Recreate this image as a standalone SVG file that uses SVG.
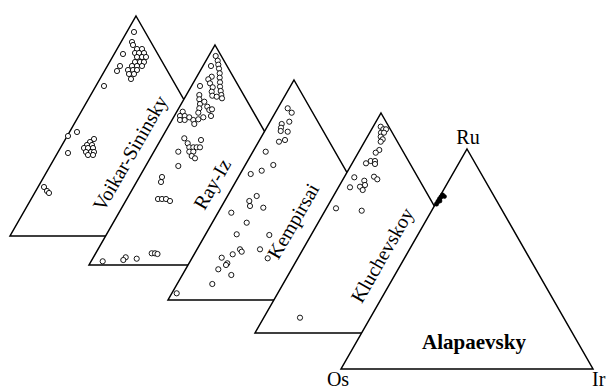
<svg xmlns="http://www.w3.org/2000/svg" width="606" height="389" viewBox="0 0 606 389">
<style>
.tri{fill:#fff;stroke:#000;stroke-width:1.5;stroke-linejoin:miter}
.p{fill:#fff;stroke:#000;stroke-width:0.9}
.f{fill:#000;stroke:#000;stroke-width:0.6}
.lbl{font-family:"Liberation Serif","Times New Roman",serif;font-size:20px;fill:#000;text-anchor:middle}
.b{font-weight:bold;font-size:21px}
</style>
<defs>
<circle id="c" r="2.6"/>
</defs>
<rect width="606" height="389" fill="#fff"/>
<g id="voikar">
<polygon class="tri" points="136,16 262,236 10,236"/>
<g class="p">
<use href="#c" x="134" y="32"/><use href="#c" x="132" y="42"/><use href="#c" x="133" y="45"/><use href="#c" x="123" y="54"/>
<use href="#c" x="137" y="49"/><use href="#c" x="142" y="49"/><use href="#c" x="135" y="53"/><use href="#c" x="139" y="53"/><use href="#c" x="144" y="53"/>
<use href="#c" x="137" y="57"/><use href="#c" x="142" y="57"/><use href="#c" x="146" y="57"/><use href="#c" x="135" y="62"/><use href="#c" x="140" y="62"/><use href="#c" x="144" y="62"/>
<use href="#c" x="132" y="66"/><use href="#c" x="137" y="66"/><use href="#c" x="142" y="66"/><use href="#c" x="128" y="70"/><use href="#c" x="133" y="70"/><use href="#c" x="137" y="70"/>
<use href="#c" x="129" y="74"/><use href="#c" x="134" y="74"/><use href="#c" x="131" y="79"/><use href="#c" x="120" y="66"/><use href="#c" x="117" y="71"/><use href="#c" x="104" y="86"/>
<use href="#c" x="77" y="132"/><use href="#c" x="68" y="136"/><use href="#c" x="68" y="153"/>
<use href="#c" x="94" y="139"/><use href="#c" x="90" y="142"/><use href="#c" x="87" y="145"/><use href="#c" x="92" y="145"/><use href="#c" x="84" y="148"/><use href="#c" x="88" y="148"/><use href="#c" x="93" y="148"/>
<use href="#c" x="86" y="152"/><use href="#c" x="91" y="152"/><use href="#c" x="94" y="152"/><use href="#c" x="88" y="155"/><use href="#c" x="93" y="155"/>
<use href="#c" x="44" y="187"/><use href="#c" x="47" y="191"/><use href="#c" x="49" y="193"/>
</g>
<text class="lbl" transform="translate(130,153) rotate(-60)" y="7">Voikar-Sininsky</text>
</g>
<g id="rayiz">
<polygon class="tri" points="215,45 341,265 89,265"/>
<g class="p">
<use href="#c" x="215.7" y="56"/><use href="#c" x="217.7" y="60.7"/><use href="#c" x="218.3" y="64.7"/><use href="#c" x="219" y="68.7"/><use href="#c" x="219.7" y="73.3"/>
<use href="#c" x="219.7" y="77.7"/><use href="#c" x="220" y="82.3"/><use href="#c" x="220" y="86.7"/><use href="#c" x="220.7" y="91"/><use href="#c" x="221.3" y="95"/><use href="#c" x="222" y="98.3"/>
<use href="#c" x="211" y="66"/><use href="#c" x="211.7" y="76.7"/><use href="#c" x="208.3" y="79.3"/><use href="#c" x="210" y="83.3"/><use href="#c" x="212.7" y="87.3"/><use href="#c" x="211.7" y="91.7"/>
<use href="#c" x="212.3" y="95.7"/><use href="#c" x="216.7" y="96.7"/>
<use href="#c" x="200" y="86"/><use href="#c" x="199.3" y="95"/><use href="#c" x="199.3" y="99.3"/><use href="#c" x="200" y="104"/><use href="#c" x="199.3" y="108.3"/><use href="#c" x="198.3" y="112.7"/>
<use href="#c" x="204.3" y="101.7"/><use href="#c" x="207.3" y="106.7"/><use href="#c" x="209.3" y="110"/><use href="#c" x="212" y="109.3"/><use href="#c" x="211" y="116"/>
<use href="#c" x="182.7" y="111.7"/><use href="#c" x="180" y="116"/><use href="#c" x="184.7" y="116"/><use href="#c" x="180" y="120"/><use href="#c" x="184.7" y="120"/><use href="#c" x="189.3" y="117.3"/>
<use href="#c" x="193.3" y="120"/><use href="#c" x="194.3" y="124"/><use href="#c" x="198.3" y="119.3"/><use href="#c" x="203.3" y="117.3"/>
<use href="#c" x="184.3" y="138.3"/><use href="#c" x="187.7" y="143.3"/><use href="#c" x="189.3" y="147.3"/><use href="#c" x="193.3" y="147.3"/><use href="#c" x="196.7" y="147.3"/>
<use href="#c" x="201" y="140"/><use href="#c" x="200" y="147.3"/><use href="#c" x="189.3" y="151.7"/><use href="#c" x="193.3" y="151.7"/><use href="#c" x="191.7" y="156"/><use href="#c" x="195" y="158.3"/>
<use href="#c" x="178.3" y="151.7"/><use href="#c" x="178.3" y="166"/>
<use href="#c" x="162" y="177"/><use href="#c" x="161" y="182"/>
<use href="#c" x="158" y="199"/><use href="#c" x="162" y="199"/><use href="#c" x="166" y="199"/><use href="#c" x="170" y="201"/>
<use href="#c" x="151.7" y="253.3"/><use href="#c" x="155" y="253.3"/><use href="#c" x="157.5" y="254"/>
<use href="#c" x="125.7" y="257.3"/><use href="#c" x="123.3" y="260"/><use href="#c" x="136.7" y="258.7"/><use href="#c" x="102.7" y="261.3"/>
</g>
<text class="lbl" transform="translate(212,184) rotate(-60)" y="7">Ray-Iz</text>
</g>
<g id="kempirsai">
<polygon class="tri" points="294,80 420,300 168,300"/>
<g class="p">
<use href="#c" x="287.7" y="108.3"/><use href="#c" x="291.7" y="112.7"/><use href="#c" x="289.3" y="121.7"/><use href="#c" x="281.7" y="124"/><use href="#c" x="281" y="127.7"/>
<use href="#c" x="280.7" y="131"/><use href="#c" x="287.7" y="131.7"/><use href="#c" x="285" y="140"/><use href="#c" x="279" y="141.7"/>
<use href="#c" x="265.7" y="151.7"/><use href="#c" x="273.3" y="165"/><use href="#c" x="261.7" y="170.7"/><use href="#c" x="250.7" y="174"/>
<use href="#c" x="256.7" y="196"/><use href="#c" x="249.3" y="201"/><use href="#c" x="250" y="206"/><use href="#c" x="263.3" y="207.7"/>
<use href="#c" x="231.3" y="212.7"/><use href="#c" x="246.7" y="222.7"/><use href="#c" x="236.7" y="234.3"/><use href="#c" x="269.3" y="235"/>
<use href="#c" x="260" y="249.3"/><use href="#c" x="240" y="249.3"/><use href="#c" x="241.7" y="251.7"/><use href="#c" x="232.7" y="254.3"/><use href="#c" x="221.7" y="257.7"/>
<use href="#c" x="267.7" y="258.3"/><use href="#c" x="227.3" y="263.3"/><use href="#c" x="226" y="265"/><use href="#c" x="218.3" y="269.3"/><use href="#c" x="231.3" y="275"/>
<use href="#c" x="212.3" y="284"/><use href="#c" x="176.7" y="293.3"/>
</g>
<text class="lbl" transform="translate(293,221) rotate(-60)" y="7">Kempirsai</text>
</g>
<g id="kluchevskoy">
<polygon class="tri" points="381,113 507,333 255,333"/>
<g class="p">
<use href="#c" x="380.7" y="126.7"/><use href="#c" x="383.3" y="129.3"/><use href="#c" x="386" y="129.3"/><use href="#c" x="381" y="132.7"/><use href="#c" x="384" y="132.7"/>
<use href="#c" x="380.7" y="136.7"/><use href="#c" x="382.7" y="139.3"/><use href="#c" x="380.7" y="141.7"/><use href="#c" x="379.3" y="150"/><use href="#c" x="375.7" y="152.7"/>
<use href="#c" x="370.7" y="161"/><use href="#c" x="375" y="161"/><use href="#c" x="375" y="164"/><use href="#c" x="366" y="163.3"/>
<use href="#c" x="354.3" y="177.3"/><use href="#c" x="364.3" y="180.7"/><use href="#c" x="360" y="186.7"/><use href="#c" x="362.7" y="190"/><use href="#c" x="365" y="185"/>
<use href="#c" x="350" y="187.3"/><use href="#c" x="374" y="176.7"/><use href="#c" x="377.3" y="179.3"/>
<use href="#c" x="336" y="208.3"/><use href="#c" x="361.7" y="210.7"/><use href="#c" x="300" y="317.7"/>
</g>
<text class="lbl" transform="translate(382,255) rotate(-60)" y="7">Kluchevskoy</text>
</g>
<g id="alapaevsky">
<polygon class="tri" points="467,149 593,369 341,369"/>
<g class="f">
<circle cx="436.5" cy="204" r="2.2"/><circle cx="438" cy="201.5" r="2.2"/><circle cx="439.5" cy="199" r="2.2"/><circle cx="441" cy="197" r="2.2"/>
<circle cx="442.5" cy="195" r="2.2"/><circle cx="444.5" cy="196.5" r="2"/><circle cx="440" cy="201" r="2"/>
</g>
<text class="lbl b" x="474" y="349">Alapaevsky</text>
<text class="lbl" x="468" y="144">Ru</text>
<text class="lbl" x="338" y="386">Os</text>
<text class="lbl" x="592" y="386" style="text-anchor:start">Ir</text>
</g>
<g id="connectors"/>
</svg>
